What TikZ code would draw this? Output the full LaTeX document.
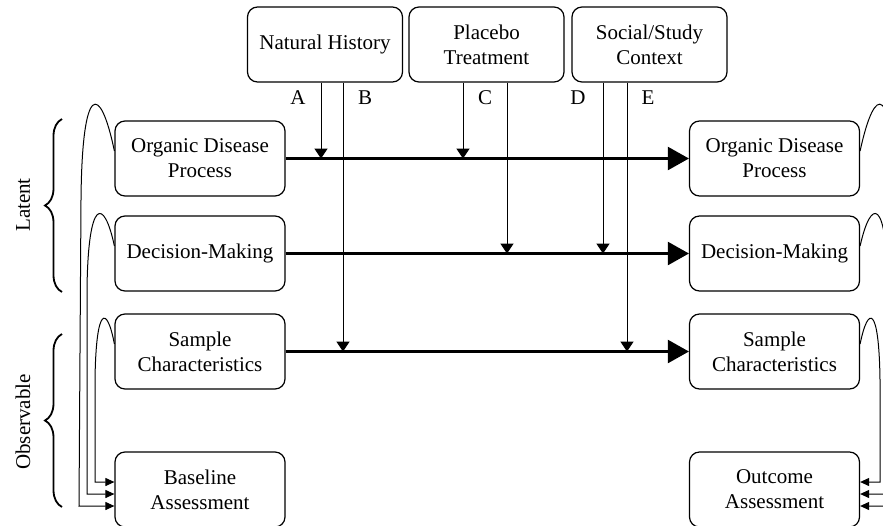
\documentclass[tikz,border=0pt]{standalone}
\usepackage{fontspec}
\setmainfont{Liberation Serif}
\usetikzlibrary{arrows.meta,decorations.pathreplacing}
\tikzset{>=latex}
\tikzset{
  box/.style={draw, rounded corners=5pt, align=center, minimum width=85pt, minimum height=37.5pt, inner sep=2pt, line width=0.6pt},
  topbox/.style={box, minimum width=77.5pt},
  flow/.style={line width=1.1pt, -{Triangle[length=10.5pt,width=11.5pt]}},
  effect/.style={line width=0.5pt, -{Triangle[length=5pt,width=6.6pt]}},
  carry/.style={line width=0.5pt, -{Triangle[length=4.5pt,width=4pt]}},
  bracket/.style={decorate, decoration={brace, amplitude=8.5pt}, line width=0.9pt}
}

\begin{document}
\begin{tikzpicture}[x=0.5pt, y=-0.5pt, font=\fontsize{10.5}{12.5}\selectfont]

\useasboundingbox (0,0) rectangle (883,525);
\clip (0,0) rectangle (883,525);

% influences
\node[topbox] (NH) at (325, 44.5) {Natural History};
\node[topbox] (PT) at (486.5, 44.5) {Placebo\\Treatment};
\node[topbox] (SC) at (649.5, 44.5) {Social/Study\\Context};

% baseline side
\node[box] (ODP) at (200, 158.5) {Organic Disease\\Process};
\node[box] (DM) at (200, 253.5) {Decision-Making};
\node[box] (SCH) at (200, 351.5) {Sample\\Characteristics};
\node[box] (BA) at (200, 489.5) {Baseline\\Assessment};

% outcome side
\node[box] (ODPr) at (774.5, 158.5) {Organic Disease\\Process};
\node[box] (DMr) at (774.5, 253.5) {Decision-Making};
\node[box] (SCHr) at (774.5, 351.5) {Sample\\Characteristics};
\node[box] (OA) at (774.5, 489.5) {Outcome\\Assessment};

\draw[flow] (ODP.east) -- (ODPr.west);
\draw[flow] (DM.east) -- (DMr.west);
\draw[flow] (SCH.east) -- (SCHr.west);

% where the influences join
\coordinate (a) at (321, 158.5);
\coordinate (b) at (343, 351.5);
\coordinate (c1) at (463, 158.5);
\coordinate (c2) at (507, 253.5);
\coordinate (d) at (603, 253.5);
\coordinate (e) at (627, 351.5);

\draw[effect] (NH.south -| a) -- (a);
\draw[effect] (NH.south -| b) -- (b);
\draw[effect] (PT.south -| c1) -- (c1);
\draw[effect] (PT.south -| c2) -- (c2);
\draw[effect] (SC.south -| d) -- (d);
\draw[effect] (SC.south -| e) -- (e);

\node (A) at (298, 98) {A};
\node (B) at (365, 98) {B};
\node (C) at (485, 98) {C};
\node (D) at (578, 98) {D};
\node (E) at (648, 98) {E};

% measurement loops
\draw[carry] (ODP.175) .. controls (100,82) and (82,82) .. (81,200) -- (79,506) -- ([yshift=-8.25pt]BA.west);
\draw[carry] (DM.175) .. controls (104,197) and (88,197) .. (87,290) -- (87,494) -- ([yshift=-2.25pt]BA.west);
\draw[carry] (SCH.175) .. controls (107,305) and (96,305) .. (95,380) -- (95,482) -- ([yshift=3.75pt]BA.west);

\draw[carry] (ODPr.5) .. controls (875,82) and (893,82) .. (894,200) -- (896,506) -- ([yshift=-8.25pt]OA.east);
\draw[carry] (DMr.5) .. controls (871,197) and (887,197) .. (888,290) -- (888,494) -- ([yshift=-2.25pt]OA.east);
\draw[carry] (SCHr.5) .. controls (868,305) and (879,305) .. (880,380) -- (880,482) -- ([yshift=3.75pt]OA.east);

% groups
\draw[bracket] (62,292) -- (62,119);
\draw[bracket] (62,507) -- (62,334);
\node[rotate=90] (latent) at (23,205) {Latent};
\node[rotate=90] (observable) at (23,422) {Observable};

\end{tikzpicture}
\end{document}
